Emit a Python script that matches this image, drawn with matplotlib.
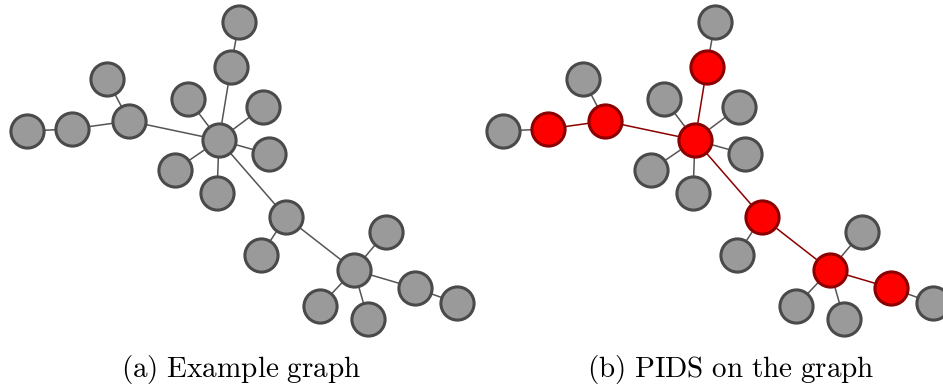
import matplotlib
matplotlib.use("Agg")
import matplotlib.pyplot as plt

plt.rcParams['mathtext.fontset'] = 'cm'

# Graph layout (node positions in layout units) for panel (a)
node_x = [239, 231, 219, 188, 263, 269, 175, 217, 129, 107, 72, 27,
          286, 261, 354, 386, 415, 457, 320, 368]
node_y = [22, 67, 140, 99, 107, 154, 170, 193, 121, 79, 129, 131,
          217, 255, 270, 232, 288, 303, 306, 319]
edges = [(0, 1), (1, 2), (2, 3), (2, 4), (2, 5), (2, 6), (2, 7), (2, 8),
         (8, 9), (8, 10), (10, 11), (2, 12), (12, 13), (12, 14), (14, 15),
         (14, 16), (16, 17), (14, 18), (14, 19)]
pids_nodes = [1, 2, 8, 10, 12, 14, 16]
panel_offset = 476
captions = ["(a) Example graph", "(b) PIDS on the graph"]

GRAY_FILL = "#9a9a9a"
GRAY_EDGE = "#4a4a4a"
RED_FILL = "#ff0000"
RED_EDGE = "#8b0000"
LINE_GRAY = "#555555"
LINE_RED = "#8b0000"

fig = plt.figure(figsize=(9.43, 3.9), dpi=100)
ax = fig.add_axes([0, 0, 1, 1])
ax.set_xlim(0, 943)
ax.set_ylim(390, 0)
ax.axis('off')

for panel in range(2):
    off = panel * panel_offset
    highlight = set(pids_nodes) if panel == 1 else set()
    for a, b in edges:
        red = a in highlight and b in highlight
        ax.plot([node_x[a] + off, node_x[b] + off], [node_y[a], node_y[b]],
                color=LINE_RED if red else LINE_GRAY, lw=1.1, zorder=1,
                solid_capstyle='butt')
    for i in range(len(node_x)):
        red = i in highlight
        ax.scatter([node_x[i] + off], [node_y[i]], s=570,
                   facecolor=RED_FILL if red else GRAY_FILL,
                   edgecolor=RED_EDGE if red else GRAY_EDGE,
                   linewidths=2.2, zorder=2, clip_on=True)

caption_x = [241, 731]
for cx, cap in zip(caption_x, captions):
    txt = r"$\mathrm{" + cap.replace(" ", r"\ ") + "}$"
    ax.text(cx, 377, txt, ha='center', va='baseline', fontsize=21, color='black')

fig.savefig("out.png", dpi=100)
